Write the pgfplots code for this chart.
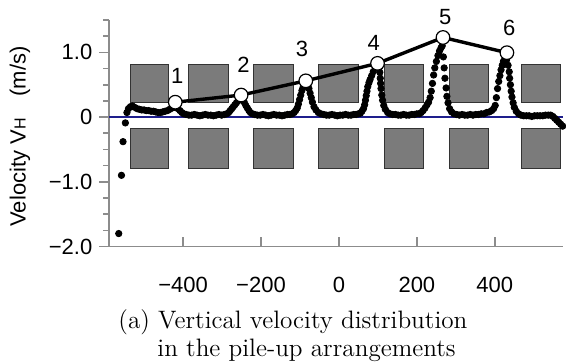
\documentclass[border=0pt]{standalone}
\usepackage{fontspec}
\usepackage{pgfplots}
\pgfplotsset{compat=1.18}
\newfontfamily\sansfont{Liberation Sans}
\definecolor{sqfill}{HTML}{7B7B7B}
\definecolor{sqedge}{HTML}{333333}
\definecolor{axgray}{HTML}{8C8C8C}
\definecolor{navy}{HTML}{1E1E8C}
\begin{document}
\begin{tikzpicture}
\useasboundingbox (-54.5pt,-58.25pt) rectangle (228.5pt,123.25pt);
\begin{axis}[
  at={(0,0)}, anchor=south west,
  scale only axis, width=227pt, height=113.25pt,
  xmin=-590, xmax=575, ymin=-2, ymax=1.5,
  axis x line=bottom, axis y line=left,
  axis line style={-, draw=axgray, line width=0.8pt},
  xtick={-400,-200,0,200,400},
  xticklabels={−400,−200,0,200,400},
  ytick={-2,-1,0,1},
  yticklabels={−2.0,−1.0,0,1.0},
  minor ytick={-1.75,-1.5,-1.25,-0.75,-0.5,-0.25,0.25,0.5,0.75,1.25,1.5},
  tick align=outside,
  major tick length=4.8pt, minor tick length=2.8pt,
  tick style={draw=axgray, line width=0.8pt},
  x tick style={yshift=4.8pt},
  tick label style={font=\sansfont\fontsize{11}{13}\selectfont},
  xticklabel style={yshift=-7pt},
  ylabel={\sansfont\fontsize{11}{13}\selectfont Velocity V{\fontsize{8}{8}\selectfont H}\quad(m/s)},
  ylabel style={at={(axis description cs:-0.196,0.486)}, anchor=center},
  clip=false,
]
% squares (upper row)
\addplot[fill=sqfill, draw=sqedge, line width=0.5pt] coordinates {(-534,0.23) (-437,0.23) (-437,0.82) (-534,0.82)} --cycle;
\addplot[fill=sqfill, draw=sqedge, line width=0.5pt] coordinates {(-386,0.23) (-284,0.23) (-284,0.82) (-386,0.82)} --cycle;
\addplot[fill=sqfill, draw=sqedge, line width=0.5pt] coordinates {(-218,0.23) (-117,0.23) (-117,0.82) (-218,0.82)} --cycle;
\addplot[fill=sqfill, draw=sqedge, line width=0.5pt] coordinates {(-53,0.23) (50,0.23) (50,0.82) (-53,0.82)} --cycle;
\addplot[fill=sqfill, draw=sqedge, line width=0.5pt] coordinates {(116,0.23) (216,0.23) (216,0.82) (116,0.82)} --cycle;
\addplot[fill=sqfill, draw=sqedge, line width=0.5pt] coordinates {(283,0.23) (383,0.23) (383,0.82) (283,0.82)} --cycle;
\addplot[fill=sqfill, draw=sqedge, line width=0.5pt] coordinates {(469,0.23) (568,0.23) (568,0.82) (469,0.82)} --cycle;
% squares (lower row)
\addplot[fill=sqfill, draw=sqedge, line width=0.5pt] coordinates {(-534,-0.79) (-437,-0.79) (-437,-0.18) (-534,-0.18)} --cycle;
\addplot[fill=sqfill, draw=sqedge, line width=0.5pt] coordinates {(-386,-0.79) (-284,-0.79) (-284,-0.18) (-386,-0.18)} --cycle;
\addplot[fill=sqfill, draw=sqedge, line width=0.5pt] coordinates {(-218,-0.79) (-117,-0.79) (-117,-0.18) (-218,-0.18)} --cycle;
\addplot[fill=sqfill, draw=sqedge, line width=0.5pt] coordinates {(-53,-0.79) (50,-0.79) (50,-0.18) (-53,-0.18)} --cycle;
\addplot[fill=sqfill, draw=sqedge, line width=0.5pt] coordinates {(116,-0.79) (216,-0.79) (216,-0.18) (116,-0.18)} --cycle;
\addplot[fill=sqfill, draw=sqedge, line width=0.5pt] coordinates {(283,-0.79) (383,-0.79) (383,-0.18) (283,-0.18)} --cycle;
\addplot[fill=sqfill, draw=sqedge, line width=0.5pt] coordinates {(469,-0.79) (568,-0.79) (568,-0.18) (469,-0.18)} --cycle;
% zero line
\addplot[navy, line width=0.7pt] coordinates {(-590,0) (575,0)};
% dots
\addplot[only marks, mark=*, mark size=1.6pt, black] coordinates {
(-565,-1.80) (-558,-0.90) (-554,-0.38) (-548,-0.09) (-544,0.07) (-540,0.13) (-535,0.16) (-530,0.17) (-524,0.15) (-518,0.13) (-512,0.12) (-506,0.11) (-500,0.11) (-494,0.10) (-488,0.10) (-482,0.09) (-476,0.09) (-470,0.08) (-464,0.07) (-458,0.07) (-452,0.08) (-446,0.09) (-440,0.10) (-434,0.12) (-428,0.14) (-423,0.15) (-418,0.15) (-413,0.13) (-408,0.10) (-403,0.07) (-398,0.05)
(-392,0.04) (-385,0.03) (-378,0.03) (-371,0.04) (-364,0.03) (-357,0.02) (-350,0.03) (-343,0.04) (-336,0.03) (-329,0.03) (-322,0.02) (-315,0.03) (-308,0.04) (-301,0.03) (-294,0.04) (-288,0.05)
(-283,0.07) (-279,0.10) (-275,0.13) (-271,0.16) (-267,0.19) (-263,0.22) (-259,0.25) (-255,0.28) (-251,0.29) (-247,0.27) (-243,0.23) (-239,0.18) (-235,0.14) (-231,0.10) (-227,0.07) (-222,0.05) (-216,0.04)
(-209,0.03) (-202,0.03) (-195,0.04) (-188,0.03) (-181,0.02) (-174,0.03) (-167,0.04) (-160,0.03) (-153,0.03) (-146,0.02) (-139,0.03) (-132,0.04) (-126,0.04) (-120,0.05)
(-115,0.07) (-111,0.10) (-107,0.14) (-104,0.20) (-101,0.27) (-98,0.34) (-95,0.41) (-92,0.46) (-88,0.50) (-84,0.52) (-80,0.49) (-77,0.44) (-74,0.37) (-71,0.30) (-68,0.23) (-64,0.16) (-59,0.11) (-53,0.07) (-46,0.05) (-39,0.04)
(-32,0.03) (-25,0.03) (-18,0.04) (-11,0.03) (-4,0.02) (3,0.03) (10,0.03) (17,0.04) (24,0.03) (31,0.03) (38,0.04) (44,0.04) (50,0.05) (55,0.06)
(59,0.09) (63,0.13) (66,0.19) (68,0.26) (70,0.33) (72,0.40) (74,0.47) (77,0.53) (80,0.58) (84,0.64) (88,0.70) (93,0.76) (98,0.80) (103,0.76) (105,0.69) (106,0.60) (107,0.52) (108,0.44) (110,0.34) (112,0.26) (115,0.18) (119,0.12) (125,0.07) (131,0.05)
(138,0.04) (145,0.04) (152,0.03) (159,0.03) (166,0.04) (173,0.03) (180,0.03) (187,0.04) (194,0.04) (200,0.05) (206,0.05) (211,0.07)
(216,0.10) (221,0.14) (226,0.19) (230,0.23) (234,0.30) (237,0.40) (240,0.52) (243,0.65) (246,0.76) (250,0.86) (254,0.95) (258,1.02) (262,1.07) (265,1.10) (268,0.93) (270,0.76) (272,0.60) (275,0.45) (277,0.32) (280,0.22) (284,0.13) (289,0.08) (295,0.05)
(302,0.04) (309,0.03) (316,0.04) (323,0.03) (330,0.03) (337,0.04) (344,0.03) (351,0.04) (358,0.04) (365,0.05) (372,0.05) (379,0.07) (386,0.08) (392,0.10)
(397,0.13) (401,0.18) (404,0.30) (407,0.44) (410,0.55) (413,0.64) (416,0.73) (419,0.80) (422,0.86) (426,0.90) (430,0.88) (434,0.80) (437,0.70) (438,0.60) (440,0.50) (442,0.40) (444,0.31) (447,0.22) (450,0.15) (455,0.09) (461,0.05) (467,0.03)
(474,0.02) (481,0.02) (488,0.02) (495,0.01) (502,0.02) (509,0.02) (516,0.02) (523,0.02) (530,0.03) (537,0.03) (543,0.03) (549,0.01) (554,-0.02) (559,-0.05) (564,-0.08) (569,-0.11) (574,-0.14)
};
% line with open circles
\addplot[black, line width=1.7pt, mark=*, mark size=3.4pt, mark options={fill=white, draw=black, line width=0.6pt}] coordinates {
(-420,0.23) (-251,0.34) (-85,0.56) (99,0.83) (267,1.23) (431,0.995)
};
% point labels
\node[font=\sansfont\fontsize{11}{13}\selectfont] at (axis cs:-415,0.63) {1};
\node[font=\sansfont\fontsize{11}{13}\selectfont] at (axis cs:-245,0.81) {2};
\node[font=\sansfont\fontsize{11}{13}\selectfont] at (axis cs:-95,1.06) {3};
\node[font=\sansfont\fontsize{11}{13}\selectfont] at (axis cs:89,1.15) {4};
\node[font=\sansfont\fontsize{11}{13}\selectfont] at (axis cs:273,1.54) {5};
\node[font=\sansfont\fontsize{11}{13}\selectfont] at (axis cs:437,1.37) {6};
\end{axis}
\node[anchor=west, font=\fontsize{12.6}{15}\selectfont, inner sep=0pt] at (4.5pt,-38.1pt) {(a) Vertical velocity distribution};
\node[anchor=west, font=\fontsize{12.6}{15}\selectfont, inner sep=0pt] at (24pt,-52.1pt) {in the pile-up arrangements};
\end{tikzpicture}
\end{document}
